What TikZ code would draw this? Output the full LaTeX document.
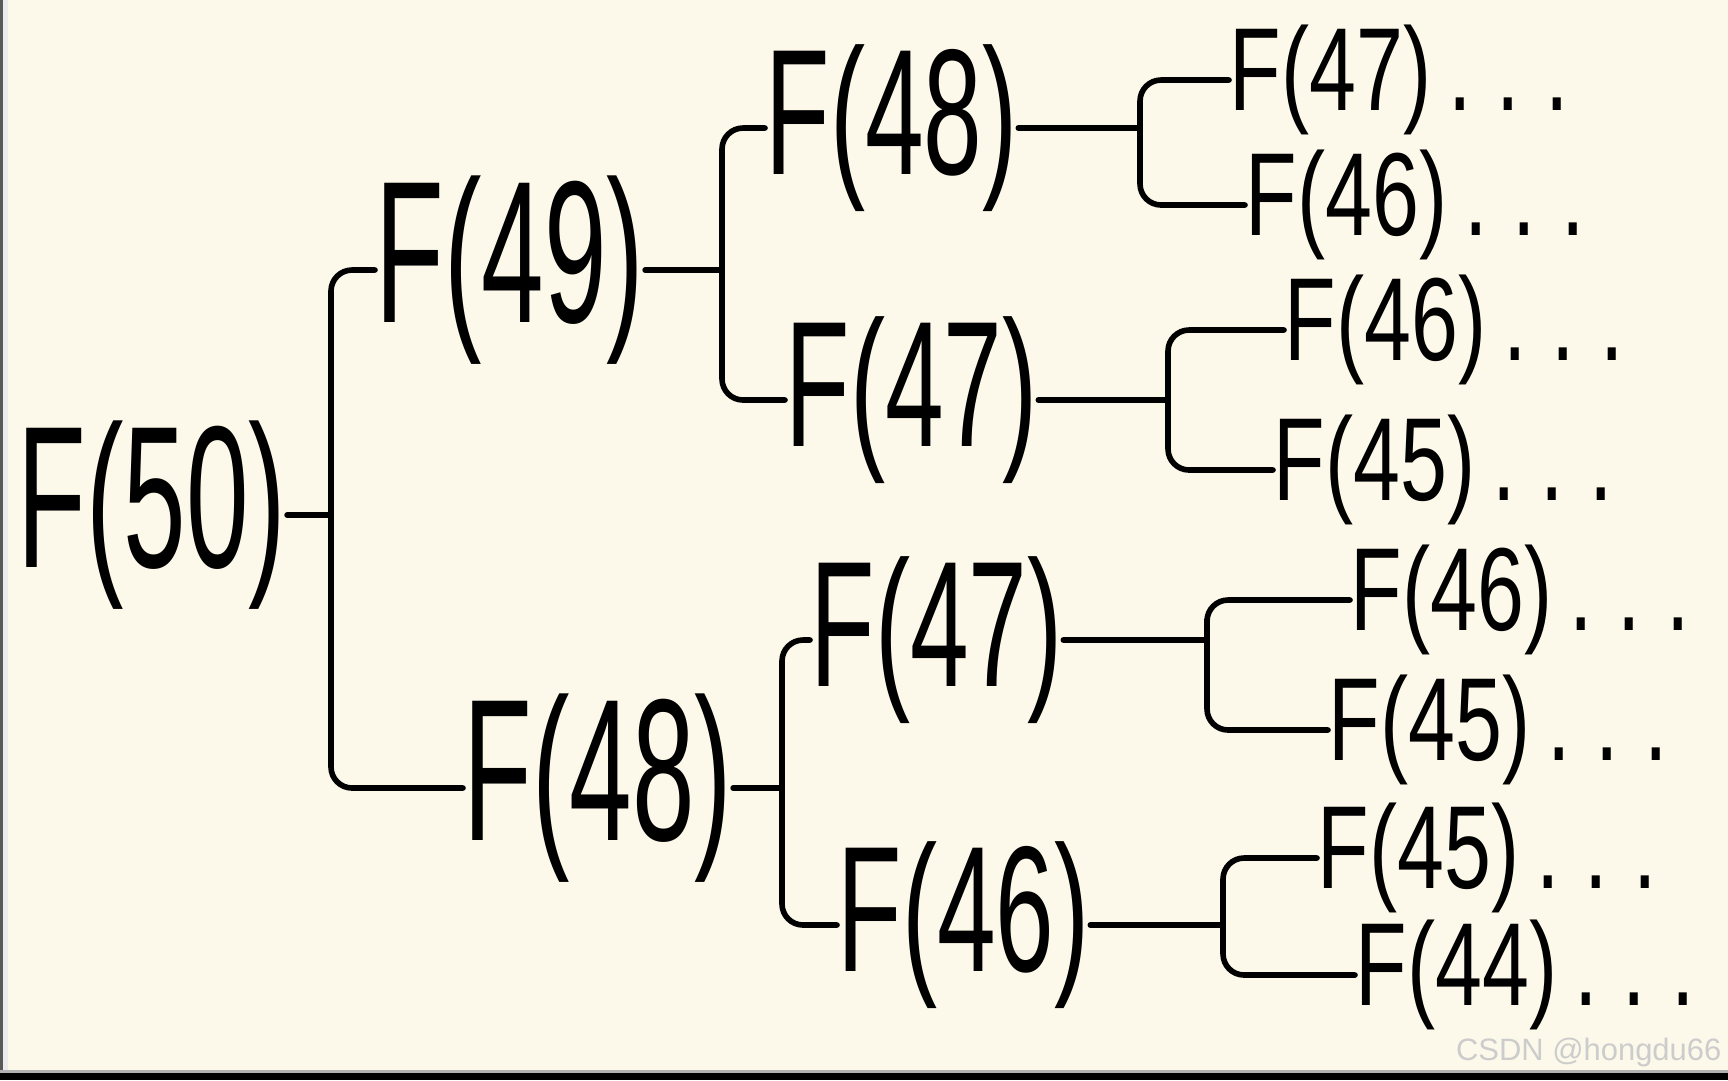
\documentclass[tikz,border=0pt]{standalone}
\usepackage{fontspec}
\setmainfont{Liberation Sans}
\definecolor{paper}{HTML}{FCF9EA}
\newcommand{\tallA}[1]{\scalebox{1}[1.8]{#1}}
\newcommand{\tallB}[1]{\scalebox{1}[1.7]{#1}}
\newcommand{\tallC}[1]{\scalebox{1}[1.4]{#1}}
\newcommand{\dts}{\hspace{0.2em}.\hspace{0.3em}.\hspace{0.3em}.}
\begin{document}
\begin{tikzpicture}[x=0.1mm,y=-0.1mm,
  lab/.style={inner sep=0pt, anchor=west, text=black},
  lvone/.style={lab, font=\fontsize{32}{38}\selectfont},
  lvthree/.style={lab, font=\fontsize{30}{36}\selectfont},
  lvfour/.style={lab, font=\fontsize{24}{28}\selectfont},
  wire/.style={line width=1.6pt, line cap=round, line join=round, rounded corners=6pt}]
\useasboundingbox (0,0) rectangle (1728,1080);
\fill[paper] (0,0) rectangle (1728,1080);
\fill[gray!70!black] (0,0) rectangle (3,1080);
\fill[gray!15] (3,0) rectangle (8,1070);
\fill[gray!60] (0,1070) rectangle (1728,1073);
\fill[black] (0,1073) rectangle (1728,1080);

% nodes
\node[lvone] (n50) at (17,515) {\tallA{F(50)}};
\node[lvone] (n49) at (375,270) {\tallA{F(49)}};
\node[lvone] (n48) at (463,788) {\tallA{F(48)}};
\node[lvthree] (m48) at (765,128) {\tallB{F(48)}};
\node[lvthree] (m47a) at (785,400) {\tallB{F(47)}};
\node[lvthree] (m47b) at (810,640) {\tallB{F(47)}};
\node[lvthree] (m46) at (837,925) {\tallB{F(46)}};
\node[lvfour] (k1) at (1229,80) {\tallC{F(47)\dts}};
\node[lvfour] (k2) at (1245,205) {\tallC{F(46)\dts}};
\node[lvfour] (k3) at (1284,330) {\tallC{F(46)\dts}};
\node[lvfour] (k4) at (1273,470) {\tallC{F(45)\dts}};
\node[lvfour] (k5) at (1350,600) {\tallC{F(46)\dts}};
\node[lvfour] (k6) at (1328,730) {\tallC{F(45)\dts}};
\node[lvfour] (k7) at (1317,858) {\tallC{F(45)\dts}};
\node[lvfour] (k8) at (1355,975) {\tallC{F(44)\dts}};

% bracket columns
\coordinate (xb1) at (331,0);
\coordinate (xb2) at (722,0);
\coordinate (xb3) at (782,0);
\coordinate (xc1) at (1140,0);
\coordinate (xc2) at (1168,0);
\coordinate (xc3) at (1207,0);
\coordinate (xc4) at (1223,0);
\coordinate (j1) at (n50.east -| xb1);
\coordinate (j2) at (n49.east -| xb2);
\coordinate (j3) at (n48.east -| xb3);
\coordinate (i1) at (m48.east -| xc1);
\coordinate (i2) at (m47a.east -| xc2);
\coordinate (i3) at (m47b.east -| xc3);
\coordinate (i4) at (m46.east -| xc4);

% connectors
\draw[wire] (n50.east) -- (j1);
\draw[wire] (n49.west) -| (j1) |- (n48.west);
\draw[wire] (n49.east) -- (j2);
\draw[wire] (m48.west) -| (j2) |- (m47a.west);
\draw[wire] (n48.east) -- (j3);
\draw[wire] (m47b.west) -| (j3) |- (m46.west);
\draw[wire] (m48.east) -- (i1);
\draw[wire] (k1.west) -| (i1) |- (k2.west);
\draw[wire] (m47a.east) -- (i2);
\draw[wire] (k3.west) -| (i2) |- (k4.west);
\draw[wire] (m47b.east) -- (i3);
\draw[wire] (k5.west) -| (i3) |- (k6.west);
\draw[wire] (m46.east) -- (i4);
\draw[wire] (k7.west) -| (i4) |- (k8.west);

\node[anchor=base east, inner sep=0pt, font=\fontsize{8.8}{10}\selectfont, text=gray!40] (wm) at (1722,1060) {CSDN @hongdu66};
\end{tikzpicture}
\end{document}
